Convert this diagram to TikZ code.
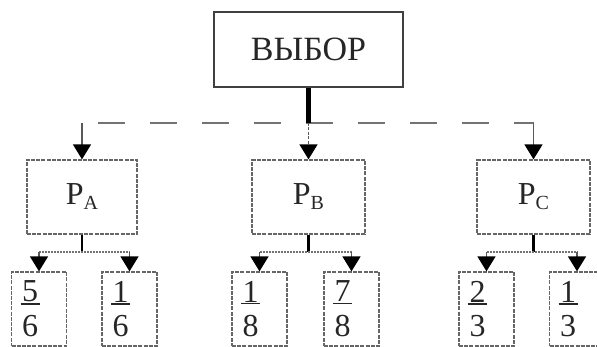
\documentclass[tikz,border=0pt]{standalone}
\usepackage{fontspec}
\setmainfont{Liberation Serif}
\usetikzlibrary{arrows.meta}
\newcommand\frc[2]{\vbox{\hbox to 19pt{\hss#1\hss}\kern1pt\hrule height 1.4pt\kern11pt\hbox to 19pt{\hss#2\hss}}}
\newcommand\plab[1]{P\raisebox{-5pt}{\fontsize{20}{20}\selectfont #1}}
\begin{document}
\begin{tikzpicture}[x=1pt,y=-1pt,
  box/.style={draw=black!75, line width=1.6pt, inner sep=0pt, fill=white, text=black!85},
  lvl/.style={draw=black!60, line width=1.3pt, dash pattern=on 4pt off 1.2pt, inner sep=0pt, minimum height=74pt, text=black!85, font=\fontsize{32}{36}\selectfont},
  leaf/.style={lvl, minimum width=55pt},
  drop/.style={-{Triangle[width=18pt,length=15pt,color=black,fill=black]}, draw=black!65, line width=1.6pt},
  bus/.style={draw=black!55, line width=1.6pt, dash pattern=on 27pt off 25pt, dash phase=36pt},
  sbus/.style={draw=black!55, line width=1.8pt, dash pattern=on 2pt off 1pt},
  stem/.style={draw=black, line width=2.5pt},
  thickstem/.style={draw=black, line width=4.5pt}
]
\useasboundingbox (0,0) rectangle (597,347);
% top node
\node[box, minimum width=189pt, minimum height=75pt, font=\fontsize{34}{38}\selectfont] (top) at (308.5,49.5) {ВЫБОР};
% level 2
\node[lvl, minimum width=110pt] (PA) at (82,197) {\plab{A}};
\node[lvl, minimum width=113pt] (PB) at (308.5,197) {\plab{B}};
\node[lvl, minimum width=113pt] (PC) at (533.5,197) {\plab{C}};
% leaves
\node[leaf] (a1) at (39,309) {\frc{5}{6}\kern18pt};
\node[leaf] (a2) at (129.5,309) {\frc{1}{6}\kern18pt};
\node[leaf] (b1) at (259.5,309) {\frc{1}{8}\kern18pt};
\node[leaf] (b2) at (351.5,309) {\frc{7}{8}\kern18pt};
\node[leaf] (c1) at (486.5,309) {\frc{2}{3}\kern18pt};
\node[leaf] (c2) at (577,309) {\frc{1}{3}\kern18pt};
% upper bus
\coordinate (ytop) at (0,123);
\coordinate (busL) at (PA.north |- ytop);
\coordinate (busC) at (PB.north |- ytop);
\coordinate (busR) at (PC.north |- ytop);
\draw[bus] (busL) -- (busR);
\draw[thickstem] (top.south) -- (busC);
\draw[drop, dash pattern=on 3pt off 1.5pt] (busC) -- (PB.north);
\draw[drop] (busL) -- (PA.north);
\draw[drop] (busR) -- (PC.north);
% lower buses
\coordinate (ylow) at (0,252);
\foreach \p/\l/\r in {PA/a1/a2, PB/b1/b2, PC/c1/c2}{
  \draw[stem] (\p.south) -- (\p.south |- ylow);
  \draw[sbus] (\l.north |- ylow) -- (\r.north |- ylow);
  \draw[drop] (\l.north |- ylow) -- (\l.north);
  \draw[drop] (\r.north |- ylow) -- (\r.north);
}
\end{tikzpicture}
\end{document}
